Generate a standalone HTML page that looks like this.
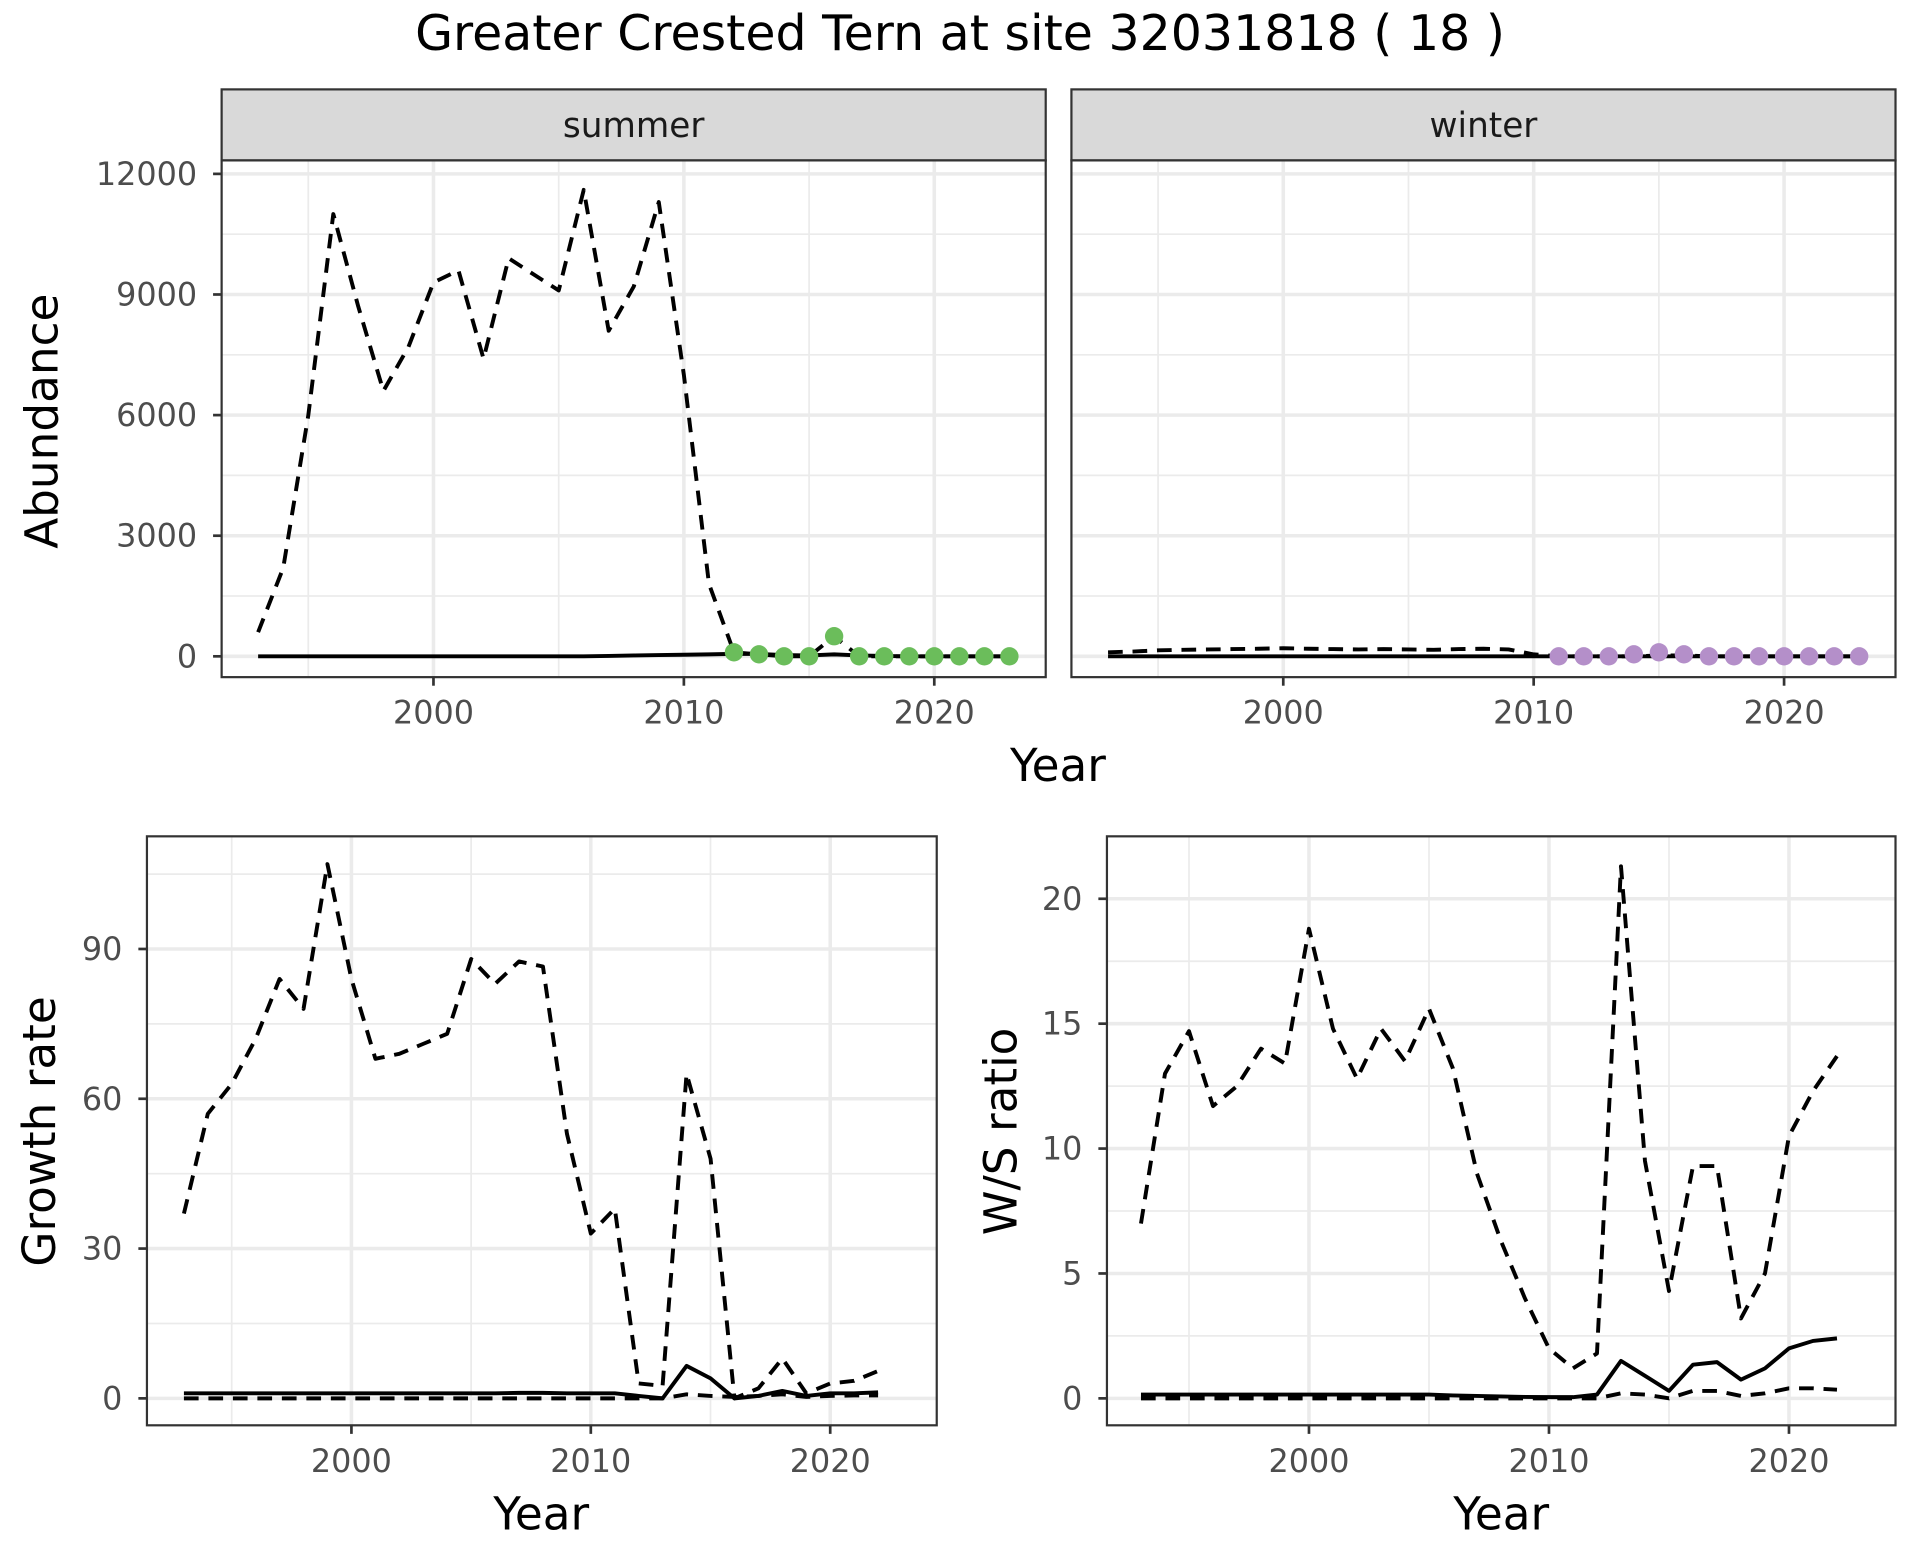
<!DOCTYPE html>
<html><head><meta charset="utf-8"><style>
html,body{margin:0;padding:0;background:#fff;}
svg{display:block;}
text{font-family:"DejaVu Sans","Liberation Sans",sans-serif;}
</style></head><body>
<svg id="s" width="1920" height="1560" viewBox="0 0 1568 1274" xmlns="http://www.w3.org/2000/svg">
<rect width="1568" height="1274" fill="#fff"/>
<text x="784" y="41" font-size="40" text-anchor="middle">Greater Crested Tern at site 32031818 ( 18 )</text>
</svg>
<script>
const s=document.getElementById('s');let h='';
function ln(pts,dash,w){return `<polyline points="${pts.map(p=>p[0].toFixed(1)+','+p[1].toFixed(1)).join(' ')}" fill="none" stroke="#000" stroke-width="${w||3.2}" ${dash?'stroke-dasharray="12,8"':''} stroke-linejoin="round"/>`;}
function panel(o){
 const {x0,x1,y0,y1,X,Y}=o;
 h+=`<rect x="${x0}" y="${y0}" width="${x1-x0}" height="${y1-y0}" fill="#fff"/>`;
 o.ymin.forEach(v=>h+=`<line x1="${x0}" x2="${x1}" y1="${Y(v)}" y2="${Y(v)}" stroke="#ebebeb" stroke-width="1.4"/>`);
 o.xmin.forEach(v=>h+=`<line y1="${y0}" y2="${y1}" x1="${X(v)}" x2="${X(v)}" stroke="#ebebeb" stroke-width="1.4"/>`);
 o.ymaj.forEach(v=>h+=`<line x1="${x0}" x2="${x1}" y1="${Y(v)}" y2="${Y(v)}" stroke="#ebebeb" stroke-width="2.9"/>`);
 [2000,2010,2020].forEach(v=>h+=`<line y1="${y0}" y2="${y1}" x1="${X(v)}" x2="${X(v)}" stroke="#ebebeb" stroke-width="2.9"/>`);
 (o.series||[]).forEach(sr=>h+=ln(sr.d.map(p=>[X(p[0]),Y(p[1])]),sr.dash));
 (o.pts||[]).forEach(p=>h+=`<circle cx="${X(p[0])}" cy="${Y(p[1])}" r="7.5" fill="${o.pc}"/>`);
 h+=`<rect x="${x0}" y="${y0}" width="${x1-x0}" height="${y1-y0}" fill="none" stroke="#333" stroke-width="1.8"/>`;
 if(o.ylab){o.ymaj.forEach(v=>{h+=`<line x1="${x0-7}" x2="${x0}" y1="${Y(v)}" y2="${Y(v)}" stroke="#333" stroke-width="2.2"/>`;h+=`<text x="${x0-20}" y="${Y(v)+9}" font-size="26" fill="#4d4d4d" text-anchor="end">${v}</text>`;});}
 [2000,2010,2020].forEach(v=>{h+=`<line y1="${y1}" y2="${y1+7}" x1="${X(v)}" x2="${X(v)}" stroke="#333" stroke-width="2.2"/>`;h+=`<text x="${X(v)}" y="${y1+38}" font-size="26" fill="#4d4d4d" text-anchor="middle">${v}</text>`;});
}
const yrs=(a,b)=>{let r=[];for(let i=a;i<=b;i++)r.push(i);return r};
const zip=(a,v)=>a.map((x,i)=>[x,v[i]]);
const Ys=v=>536-v*(394/12000);
const sumD=zip(yrs(1993,2023),[600,2200,6000,11000,8700,6600,7700,9300,9600,7400,9900,9500,9100,11600,8100,9200,11300,7000,1800,100,50,0,0,500,0,0,0,0,0,0,0]);
const sumS=zip(yrs(1993,2023),[0,0,0,0,0,0,0,0,0,0,0,0,0,0,10,20,30,40,50,60,60,30,20,50,20,10,0,0,0,0,0]);
const sumP=zip(yrs(2012,2023),[100,50,0,0,500,0,0,0,0,0,0,0]);
h+=`<rect x="181" y="73" width="673" height="58" fill="#d9d9d9" stroke="#333" stroke-width="1.8"/><text x="517.5" y="112" font-size="28" fill="#1a1a1a" text-anchor="middle">summer</text>`;
panel({x0:181,x1:854,y0:131,y1:553,X:v=>354+(v-2000)*20.45,Y:Ys,ymaj:[0,3000,6000,9000,12000],ymin:[1500,4500,7500,10500],xmin:[1995,2005,2015],ylab:1,series:[{d:sumD,dash:1},{d:sumS}],pts:sumP,pc:"#6bbd5b"});
const winD=zip(yrs(1993,2023),[100,120,150,160,170,180,190,200,190,180,170,180,170,160,180,190,170,50,0,0,0,0,20,20,0,0,0,0,0,0,0]);
const winS=zip(yrs(1993,2023),yrs(1993,2023).map(()=>0));
const winP=zip(yrs(2011,2023),[0,0,0,50,100,50,0,0,0,0,0,0,0]);
h+=`<rect x="875" y="73" width="673" height="58" fill="#d9d9d9" stroke="#333" stroke-width="1.8"/><text x="1211.5" y="112" font-size="28" fill="#1a1a1a" text-anchor="middle">winter</text>`;
panel({x0:875,x1:1548,y0:131,y1:553,X:v=>1048+(v-2000)*20.45,Y:Ys,ymaj:[0,3000,6000,9000,12000],ymin:[1500,4500,7500,10500],xmin:[1995,2005,2015],series:[{d:winD,dash:1},{d:winS}],pts:winP,pc:"#b48fc9"});
h+=`<text x="864" y="638" font-size="37" text-anchor="middle">Year</text>`;
h+=`<text transform="translate(47,344) rotate(-90)" font-size="37" text-anchor="middle">Abundance</text>`;
const Yg=v=>1142-v*(367/90);
const gD=zip(yrs(1993,2022),[37,57,63,72,84,78,107,84,68,69,71,73,88,83,87.5,86.5,53,33,38,3,2.5,65,48,0,2,8,1,3,3.5,5.5]);
const gS=zip(yrs(1993,2022),[1,1,1,1,1,1,1,1,1,1,1,1,1,1,1.1,1.1,1,1,1,0.5,0,6.5,4,0,0.5,1.5,0.5,1,1,1.2]);
const gL=zip(yrs(1993,2022),[0,0,0,0,0,0,0,0,0,0,0,0,0,0,0,0,0,0,0,0,0,0.8,0.5,0.3,0.5,0.8,0.3,0.5,0.6,0.6]);
panel({x0:120,x1:765,y0:683,y1:1164,X:v=>287+(v-2000)*19.55,Y:Yg,ymaj:[0,30,60,90],ymin:[15,45,75,105],xmin:[1995,2005,2015],ylab:1,series:[{d:gD,dash:1},{d:gS},{d:gL,dash:1}]});
h+=`<text x="442" y="1249" font-size="37" text-anchor="middle">Year</text>`;
h+=`<text transform="translate(45,924) rotate(-90)" font-size="37" text-anchor="middle">Growth rate</text>`;
const Yr=v=>1142-v*(408/20);
const rD=zip(yrs(1993,2022),[7,13,14.7,11.7,12.5,14,13.4,18.8,14.8,12.8,14.8,13.5,15.6,13.2,9,6.3,4,2,1.2,1.8,21.3,9.5,4.3,9.3,9.3,3.2,5,10.5,12.3,13.7]);
const rS=zip(yrs(1993,2022),[0.15,0.15,0.15,0.15,0.15,0.15,0.15,0.15,0.15,0.15,0.15,0.15,0.15,0.12,0.1,0.08,0.06,0.05,0.05,0.15,1.5,0.9,0.3,1.35,1.45,0.75,1.2,2,2.3,2.4]);
const rL=zip(yrs(1993,2022),[0,0,0,0,0,0,0,0,0,0,0,0,0,0,0,0,0,0,0,0,0.2,0.15,0,0.3,0.3,0.1,0.2,0.4,0.4,0.35]);
panel({x0:904,x1:1548,y0:683,y1:1164,X:v=>1069+(v-2000)*19.6,Y:Yr,ymaj:[0,5,10,15,20],ymin:[2.5,7.5,12.5,17.5],xmin:[1995,2005,2015],ylab:1,series:[{d:rD,dash:1},{d:rS},{d:rL,dash:1}]});
h+=`<text x="1226" y="1249" font-size="37" text-anchor="middle">Year</text>`;
h+=`<text transform="translate(830,924) rotate(-90)" font-size="37" text-anchor="middle">W/S ratio</text>`;
s.insertAdjacentHTML('beforeend',h);
</script>
</body></html>
